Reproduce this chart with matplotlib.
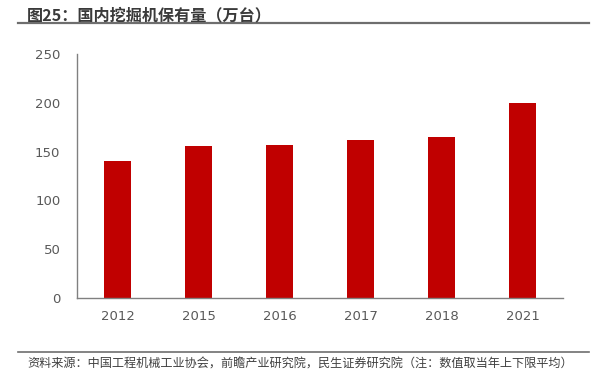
import matplotlib
matplotlib.use('Agg')
import matplotlib.pyplot as plt
from matplotlib.lines import Line2D

plt.rcParams['font.family'] = ['Noto Sans CJK SC', 'DejaVu Sans']

years = ['2012', '2015', '2016', '2017', '2018', '2021']
stock = [140, 156, 156.5, 162, 165, 200]
yticks = [0, 50, 100, 150, 200, 250]

title = '图25：国内挖掘机保有量（万台）'
source = '资料来源：中国工程机械工业协会，前瞻产业研究院，民生证券研究院（注：数值取当年上下限平均）'

fig = plt.figure(figsize=(5.93, 3.78), dpi=100)
ax = fig.add_axes([77 / 593, 80 / 378, 486 / 593, 244 / 378])

x = range(len(years))
ax.bar(x, stock, width=0.33, color='#c00000')

ax.set_xlim(-0.5, len(years) - 0.5)
ax.set_ylim(0, 250)
ax.set_yticks(yticks)
ax.set_xticks(list(x))
ax.set_xticklabels(years)

for s in ['top', 'right']:
    ax.spines[s].set_visible(False)
for s in ['left', 'bottom']:
    ax.spines[s].set_color('#808080')
    ax.spines[s].set_linewidth(1.0)

ax.tick_params(axis='both', length=0, labelsize=9.5, colors='#595959')
ax.tick_params(axis='y', pad=12)
ax.tick_params(axis='x', pad=9)
for lab in ax.get_xticklabels() + ax.get_yticklabels():
    lab.set_family('DejaVu Sans')

# title and source with rules
fig.text(27 / 593, 1 - 15 / 378, title, fontsize=11.6, fontweight='bold',
         color='#3a3a3a', va='center', ha='left')
fig.add_artist(Line2D([18 / 593, 589 / 593], [1 - 23.3 / 378] * 2,
                      color='#6e6e6e', linewidth=1.6))
fig.add_artist(Line2D([18 / 593, 589 / 593], [1 - 352 / 378] * 2,
                      color='#6e6e6e', linewidth=1.2))
fig.text(27 / 593, 1 - 364 / 378, source, fontsize=8.75,
         color='#404040', va='center', ha='left')

plt.savefig('out.png', dpi=100)
